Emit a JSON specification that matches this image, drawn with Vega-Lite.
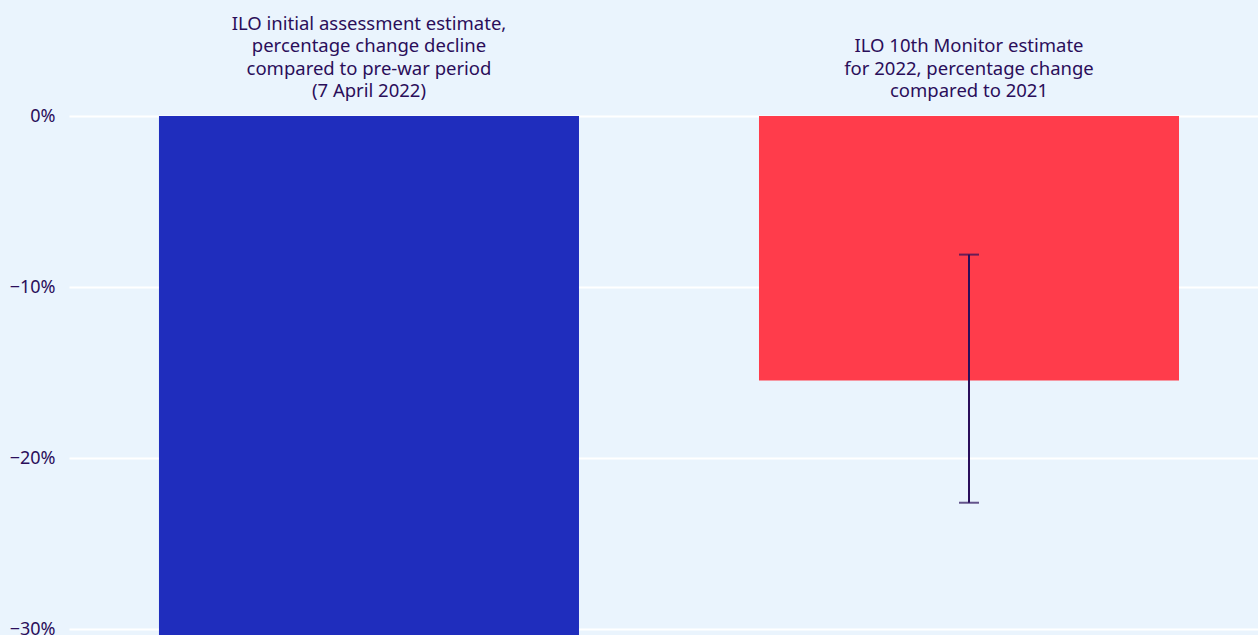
{
  "$schema": "https://vega.github.io/schema/vega-lite/v6.json",
  "autosize": {"type": "none"},
  "padding": {"left": 69, "top": 116, "right": 0, "bottom": 0},
  "width": 1189,
  "height": 519,
  "background": "#eaf4fd",
  "config": {
    "view": {"stroke": null},
    "font": "Noto Sans",
    "axis": {"labelFont": "Noto Sans", "labelColor": "#2a0e5a", "labelFontSize": 18}
  },
  "data": {
    "values": [
      {"cat": "ILO initial assessment estimate,|percentage change decline|compared to pre-war period|(7 April 2022)", "value": -30.6, "lo": null, "hi": null},
      {"cat": "|ILO 10th Monitor estimate|for 2022, percentage change|compared to 2021", "value": -15.45, "lo": -22.6, "hi": -8.1}
    ]
  },
  "encoding": {
    "x": {
      "field": "cat",
      "type": "nominal",
      "sort": null,
      "scale": {"paddingInner": 0.3, "paddingOuter": 0.1408, "align": 0.5325},
      "axis": {
        "orient": "top",
        "title": null,
        "labelAngle": 0,
        "labelAlign": "center",
        "labelLimit": 0,
        "labelFontSize": 18.5,
        "ticks": false,
        "domain": false,
        "labelPadding": 87,
        "labelLineHeight": 22.5,
        "labelBaseline": "alphabetic",
        "labelExpr": "split(datum.value, '|')"
      }
    }
  },
  "layer": [
    {
      "mark": {"type": "bar", "clip": true},
      "encoding": {
        "y": {
          "field": "value",
          "type": "quantitative",
          "scale": {"domain": [-30.33, 0], "nice": false, "zero": false},
          "axis": {
            "title": null,
            "values": [0, -10, -20, -30],
            "ticks": false,
            "domain": false,
            "grid": true,
            "gridColor": "#ffffff",
            "gridWidth": 2,
            "labelPadding": 14,
            "labelExpr": "datum.value == 0 ? '0%' : '\u2212' + abs(datum.value) + '%'"
          }
        },
        "y2": {"datum": 0},
        "color": {
          "field": "cat",
          "type": "nominal",
          "sort": null,
          "scale": {"range": ["#1f2dbd", "#ff3c4b"]},
          "legend": null
        }
      }
    },
    {
      "transform": [{"filter": "datum.lo != null"}],
      "mark": {"type": "rule", "color": "#2a0e5a", "strokeWidth": 2},
      "encoding": {
        "y": {"field": "lo", "type": "quantitative"},
        "y2": {"field": "hi"}
      }
    },
    {
      "transform": [{"filter": "datum.lo != null"}],
      "mark": {"type": "tick", "color": "#2a0e5a", "size": 20, "thickness": 2, "orient": "horizontal"},
      "encoding": {
        "y": {"field": "lo", "type": "quantitative"}
      }
    },
    {
      "transform": [{"filter": "datum.lo != null"}],
      "mark": {"type": "tick", "color": "#2a0e5a", "size": 20, "thickness": 2, "orient": "horizontal"},
      "encoding": {
        "y": {"field": "hi", "type": "quantitative"}
      }
    }
  ]
}
